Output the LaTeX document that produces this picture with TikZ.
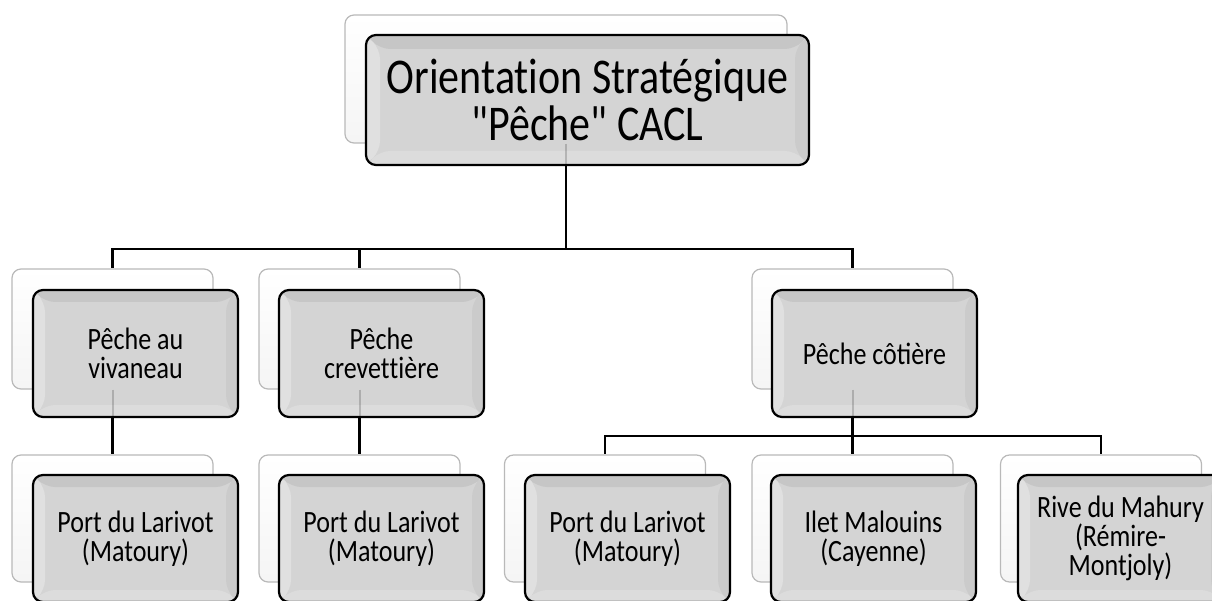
\documentclass[tikz,border=0pt]{standalone}
\usepackage{fontspec}
\setmainfont{Carlito}
\newfontfamily\boxfont{Carlito}[FakeStretch=0.84]
\newcommand{\nolig}{\kern0pt\relax}
\definecolor{boxgray}{HTML}{D4D4D4}
\definecolor{bevtop}{HTML}{C6C6C6}
\definecolor{bevleft}{HTML}{E0E0E0}
\definecolor{bevbot}{HTML}{DCDCDC}
\definecolor{bevright}{HTML}{CBCBCB}
\tikzset{
  bevel/.style={path picture={
    \path (path picture bounding box.north west) coordinate (pnw)
          (path picture bounding box.north east) coordinate (pne)
          (path picture bounding box.south west) coordinate (psw)
          (path picture bounding box.south east) coordinate (pse);
    \path ([shift={(#1,-#1)}]pnw) coordinate (inw)
          ([shift={(-#1,-#1)}]pne) coordinate (ine)
          ([shift={(#1,#1)}]psw) coordinate (isw)
          ([shift={(-#1,#1)}]pse) coordinate (ise);
    \fill[bevtop] (pnw) -- (pne) -- (ine) -- (inw) -- cycle;
    \fill[bevleft] (pnw) -- (inw) -- (isw) -- (psw) -- cycle;
    \fill[bevbot] (psw) -- (isw) -- (ise) -- (pse) -- cycle;
    \fill[bevright] (pne) -- (pse) -- (ise) -- (ine) -- cycle;
  }},
  backbox/.style={draw=gray!55, line width=1.2pt, rounded corners=9pt,
    top color=white, bottom color=gray!8, inner sep=0pt},
  frontbox/.style={draw=black, line width=2.2pt, rounded corners=10pt,
    fill=boxgray, align=center, inner sep=0pt, bevel=12pt,
    font=\boxfont\fontsize{31}{29}\selectfont},
  lowback/.style={backbox, minimum width=201pt, minimum height=127pt},
  lowfront/.style={frontbox, minimum width=205pt, minimum height=127pt},
  midback/.style={backbox, minimum width=201pt, minimum height=120pt},
  midfront/.style={frontbox, minimum width=205pt, minimum height=127pt},
  conn/.style={draw=black, line width=2.4pt},
  faint/.style={draw=black, line width=2pt, opacity=0.18}
}
\begin{document}
\begin{tikzpicture}[x=1pt,y=-1pt]
\useasboundingbox (0,0) rectangle (1212,601);
% junctions
\coordinate (j1) at (566,249);
\coordinate (j2) at (852.5,436);
% back boxes
\node[backbox, minimum width=442pt, minimum height=128pt] (rootB) at (566,79) {};
\node[midback] (l2aB) at (112.5,329) {};
\node[midback] (l2bB) at (359.5,329) {};
\node[midback] (l2cB) at (852.5,329) {};
\node[lowback] (l3aB) at (112.5,518.5) {};
\node[lowback] (l3bB) at (359.5,518.5) {};
\node[lowback] (l3cB) at (605,518.5) {};
\node[lowback] (l3dB) at (852.5,518.5) {};
\node[lowback] (l3eB) at (1101,518.5) {};
% connectors
\draw[conn] (rootB.south) -- (j1);
\draw[conn] (j1) -| (l2aB.north);
\draw[conn] (j1) -| (l2bB.north);
\draw[conn] (j1) -| (l2cB.north);
\draw[conn] (l2aB.south) -- (l3aB.north);
\draw[conn] (l2bB.south) -- (l3bB.north);
\draw[conn] (l2cB.south) -- (j2);
\draw[conn] (j2) -| (l3cB.north);
\draw[conn] (j2) -| (l3dB.north);
\draw[conn] (j2) -| (l3eB.north);
% front boxes
\node[frontbox, bevel=14pt, minimum width=443pt, minimum height=130pt,
      font=\boxfont\fontsize{50}{47}\selectfont] (rootF) at (587.5,100)
      {Orientat\nolig ion Stratégique\\"Pêche" CACL};
\node[midfront] (l2aF) at (135.5,353.5) {Pêche au\\vivaneau};
\node[midfront] (l2bF) at (381.5,353.5) {Pêche\\crevet\nolig t\nolig ière};
\node[midfront] (l2cF) at (874.5,353.5) {Pêche côtière};
\node[lowfront] (l3aF) at (135.5,538.5) {Port du Larivot\\(Matoury)};
\node[lowfront] (l3bF) at (381.5,538.5) {Port du Larivot\\(Matoury)};
\node[lowfront] (l3cF) at (627.5,538.5) {Port du Larivot\\(Matoury)};
\node[lowfront] (l3dF) at (873.5,538.5) {Ilet Malouins\\(Cayenne)};
\node[lowfront] (l3eF) at (1120.5,538.5) {Rive du Mahury\\(Rémire-\\Montjoly)};
% faint see-through connector parts
\draw[faint] (rootB.south) -- (rootB.south |- rootF.south);
\draw[faint] (l2aB.south) -- (l2aB.south |- l2aF.south);
\draw[faint] (l2bB.south) -- (l2bB.south |- l2bF.south);
\draw[faint] (l2cB.south) -- (l2cB.south |- l2cF.south);
\end{tikzpicture}
\end{document}
